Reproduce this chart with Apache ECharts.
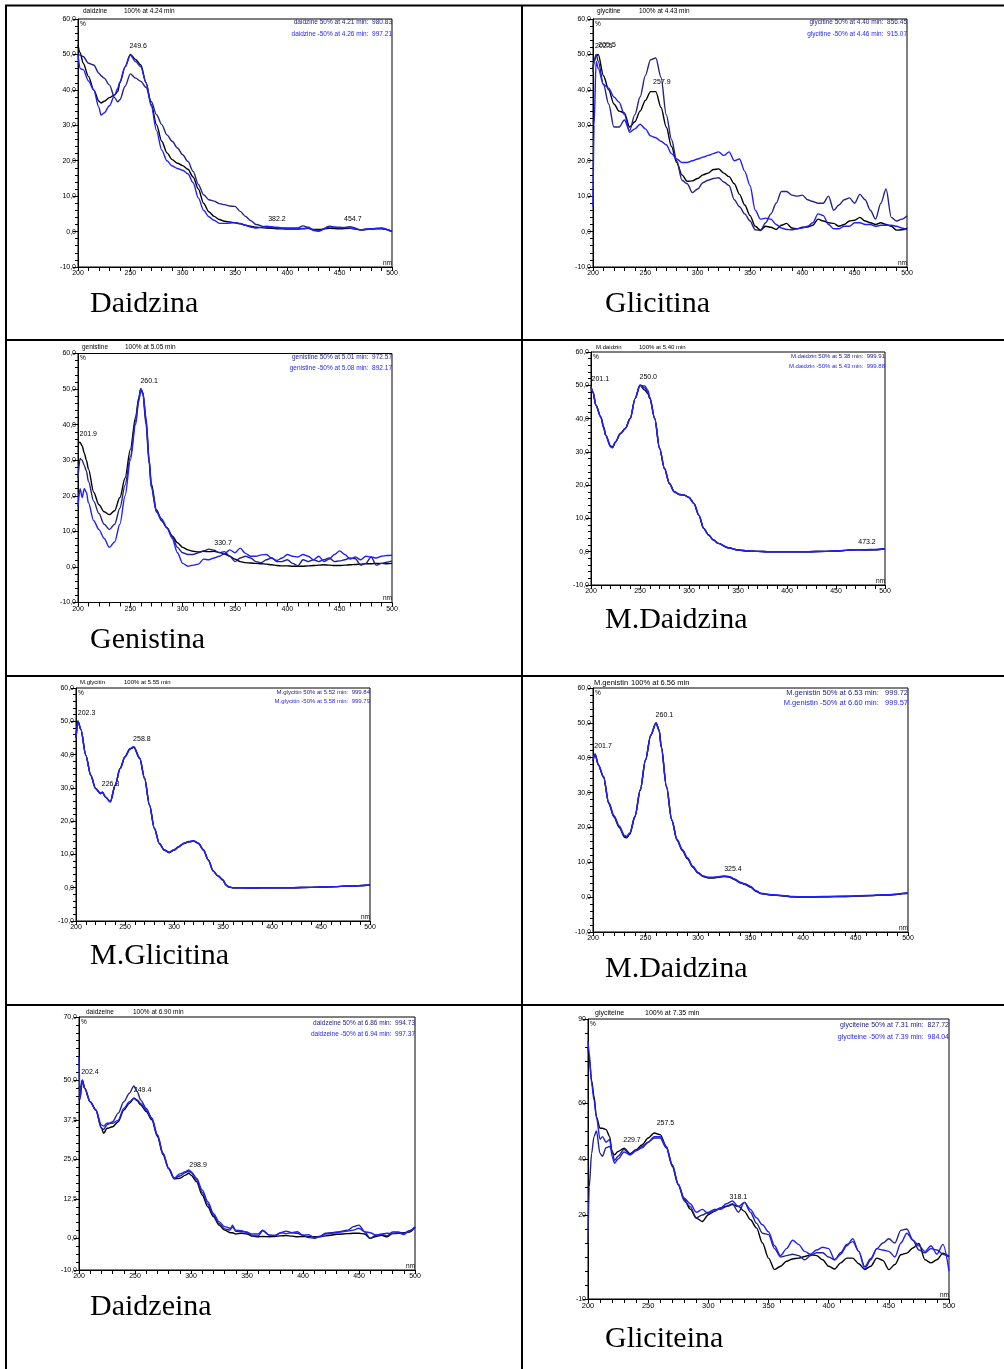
<!DOCTYPE html>
<html>
<head>
<meta charset="utf-8">
<title>Espectros UV</title>
<script src="https://cdn.jsdelivr.net/npm/echarts@6/dist/echarts.min.js"></script>
<style>
  html, body { margin: 0; padding: 0; background: #fff; }
  #chart { width: 1004px; height: 1369px; }
</style>
</head>
<body>
<div id="chart"></div>
<script>
// y tick labels
const yTicks60 = [-10, 0, 10, 20, 30, 40, 50, 60]
const yTicks70 = [-10, 0, 12.5, 25, 37.5, 50, 70]
const yTicks90 = [-10, 20, 40, 60, 90]

// daidzine (Daidzina)
const daidzineWl = [200,202,205,210,215,220,222,225,230,235,238,240,245,250,255,260,265,270,275,280,285,290,295,300,305,310,315,320,325,330,335,340,345,350,355,360,365,370,380,390,400,410,415,420,425,430,440,450,460,470,480,490,500]
const daidzine100 = [52.7,50.5,47.5,43.8,40,36.8,36.3,36.8,37.8,38.6,39.5,42,46.5,50,48.6,47,42,35.8,30.2,25.5,22.2,20.3,19.3,18.6,17.6,15.4,12,8,5.6,4.3,3.4,2.9,2.7,2.5,2.2,1.8,1.5,1.2,1.0,0.8,0.7,0.7,0.8,0.9,0.6,0.6,0.9,0.8,0.9,0.5,0.7,0.8,0.1]
const daidzine50 = [50,49.8,49.4,47.5,47,44.7,44,43.3,41.4,37.8,36.6,37.2,41,44.5,43.3,42.4,40.7,36.7,33,30.2,27.3,25.5,23.6,21.7,19.8,17,13.3,10.4,9,8.6,7.9,7.6,7.2,7.1,5.7,4.3,3.1,2,1.2,1,1,1,1.6,1.2,0.5,0.1,1.5,1,1.4,0.5,0.8,0.9,0]
const daidzineM50 = [50,46,45.7,42.5,40,35,32.9,33.5,35.5,38.5,40.5,42.3,46.5,49.8,48,46.5,42,35.5,28.5,23,20,18.5,17.8,17.3,16.3,13.8,9.5,6,4.2,3.2,2.3,2.3,2.4,2.5,2.3,1.8,1.3,1,1.5,1.2,0.8,0.8,0.9,1,0.3,0.2,1.3,1.2,1,0.5,0.8,1,0]
const daidzinePeaks = [[249.6, 50], [382.2, 1.2], [454.7, 1.2]]

// glycitine (Glicitina)
const glycitineWl = [200,201,203,205,210,215,220,225,230,235,240,245,250,255,260,265,270,275,280,285,290,295,300,305,310,315,320,325,330,335,340,345,350,355,360,365,370,375,380,385,390,395,400,405,410,415,420,425,430,435,440,445,450,455,460,465,470,475,480,485,490,495,500]
const glycitine100 = [46,48,49.5,50,44,40,36,34,33.5,29.5,31,34,37,39.5,39.5,35,29.5,24,19.5,16,14.2,14.3,15,16,16.5,17.5,17.7,16.5,15.5,13.5,10.5,7.5,4.5,1.5,0.4,1.5,1.2,0.6,1.8,2.3,1.0,0.8,1.2,1.3,1.8,3.5,3,2.5,2.3,1.5,2,3,3.2,4,3,2.5,2,2.5,2,1.5,0.4,0.5,1]
const glycitine50 = [45,48,50,48,41.5,36,29.5,29.5,31.5,28.5,33,38,44,48.5,49,43.5,33,26,20,14.5,13.5,11,12,13.8,14.5,15,15.2,14,13,9,7,5,3,0.5,0.3,2.5,5,8,11.3,11.3,10.3,10,10.3,9,8.5,8,8,10,6,7.5,9,9.5,8,10.5,9,6,3.5,8,12,4,3,3.5,4.5]
const glycitineM50 = [7,30,48,46,41.5,40.5,38,36.5,33,28,29,30.3,29,27,26.5,25.5,24.5,22,20.5,19.5,19.5,20,20.5,21,21.5,22,22.5,21.5,22.5,20,20.5,17,13,6,3.5,3.8,3.5,2,1,0.6,0.5,0.8,1,1.5,2.5,5,4.5,2,0.8,0.8,1.5,1.5,2.5,2.5,2,2,1.5,1.8,1.8,1.8,1.5,1,0.5]
const glycitinePeaks = [[202.5, 50], [205.5, 50.5], [257.9, 40]]

// genistine (Genistina)
const genistineWl = [200,202,204,206,208,210,215,220,225,230,235,240,245,250,255,258,260,262,265,268,270,275,280,285,290,295,300,305,310,315,320,325,330,335,340,345,350,355,360,365,370,375,380,385,390,395,400,405,410,415,420,425,430,435,440,445,450,455,460,465,470,475,480,485,490,495,500]
const genistine100 = [35,35,34,32,30,27.5,21,17.5,15.5,14.7,15.8,19.5,25,33,42,47.5,50,49,41,30,23.5,16,13,11,8.7,6.8,5.5,4.8,4.4,4.2,4.4,4.3,4.4,4.1,3.6,3,2.2,1.5,1.2,1.1,1,0.9,0.8,0.6,0.4,0.3,0.3,0.2,0.2,0.2,0.3,0.4,0.5,0.6,0.5,0.4,0.4,0.5,0.6,0.7,0.8,0.9,0.9,1,1,0.9,1]
const genistine50 = [25,30.5,30,28.5,27,24,18.5,15,12,10.5,12,16.5,23,31,41,47,50,48.5,40,29,22.5,15.5,13,11,8.5,5.5,4,3.5,3.5,4,4.5,5,4.7,4,4.3,3,1.5,2.5,3,2.5,1.5,1.2,2,2.5,1.5,1.5,2,1,0.3,2,1.5,2,1.5,2,2.5,1.5,1.7,2,2.5,2.3,0.5,1,2.8,0.5,1,1.3,1.7]
const genistineM50 = [17,22,19.5,22,21,18,13,10.5,8,5.5,7,12,20,30,40,46.5,50,49,42,30,22.5,15.5,13.5,11,8,4,1,0.2,0.5,0.8,2.2,2,2.5,3,3.7,4.8,4,5.3,3.8,3,3,3.4,3.5,2.5,1.8,2.5,3.5,3,2.8,3.5,3,2,3,1.5,2.2,3.5,4.5,3.5,2.2,2.8,2,3,2.8,2.5,3,3.2,3.3]
const genistinePeaks = [[260.1, 50], [201.9, 35], [330.7, 4.5]]

// M.daidzin (M.Daidzina)
const mDaidzinWl = [200,202,205,210,213,215,220,222,225,230,235,240,245,250,255,258,260,265,270,275,280,285,290,295,300,305,310,315,320,325,330,340,350,360,370,380,390,400,420,440,450,460,470,480,490,500]
const mDaidzin100 = [49.5,48,44,40.5,37.5,35,31.8,31.5,33,35.5,37,40,46,50,48.5,47.5,46,40,31,25,20.5,18,17.2,17,16.3,14.5,11,7,5,3.5,2.5,1.2,0.5,0.2,0.1,0,0,0,0,0.1,0.2,0.4,0.6,0.5,0.6,0.9]
const mDaidzin50 = [49.5,48,44,40.5,37.3,35,31.6,31.3,33,35.5,37,40,46,50,49.2,48,46.2,40,31,25,20.5,18,17.2,17,16.3,14.5,11,7,5,3.5,2.5,1.2,0.5,0.2,0.1,0,0,0,0,0.1,0.2,0.4,0.6,0.6,0.6,0.9]
const mDaidzinM50 = [49.5,48,44,40.5,37,35,31.5,31.2,33,35.5,37,40,46,50,49.8,48.5,46.5,40,31,25,20.5,18,17.2,17,16.3,14.5,11,7,5,3.5,2.5,1.2,0.5,0.2,0.1,0,0,0,0,0.1,0.2,0.4,0.6,0.6,0.7,0.9]
const mDaidzinPeaks = [[201.1, 49.5], [250.0, 50], [473.2, 0.6]]

// M.glycitin (M.Glicitina)
const mGlycitinWl = [200,202,205,210,215,220,225,227,230,235,240,245,250,255,259,265,270,275,280,285,290,295,300,305,310,315,320,325,330,335,340,345,350,353,356,360,380,400,420,440,460,480,500]
const mGlycitin100 = [45,50,47.5,39.8,33.8,29.8,28.3,28.7,27.3,25.8,30.8,35.8,39.3,41.6,42.2,38.8,32.8,24.8,17.8,13.3,11.3,10.5,11.3,12.3,13.3,13.8,14,13.3,11.3,8.3,5,3.5,2.3,0.8,0.2,0,-0.1,0,0,0.1,0.3,0.5,0.8]
const mGlycitin50 = [45,50,47.5,39.8,33.8,29.8,28.3,28.7,27.3,25.8,30.8,35.8,39.3,41.7,42.3,38.9,32.8,24.8,17.8,13.3,11.3,10.6,11.3,12.3,13.3,13.8,14,13.3,11.3,8.3,5,3.5,2.3,0.8,0.2,0,-0.1,0,0,0.1,0.3,0.5,0.8]
const mGlycitinM50 = [45,50,47.5,39.8,33.8,29.8,28.3,28.7,27.3,25.8,30.8,35.8,39.4,41.8,42.4,39,32.9,24.8,17.8,13.3,11.4,10.7,11.4,12.4,13.4,13.9,14.1,13.4,11.4,8.4,5,3.5,2.3,0.8,0.2,0,-0.1,0,0,0.1,0.3,0.5,0.8]
const mGlycitinPeaks = [[202.3, 50], [258.8, 42.2], [226.8, 28.7]]

// M.genistin (M.Daidzina, second panel)
const mGenistinWl = [200,202,205,210,215,220,225,230,232,235,240,245,250,255,260,263,265,270,275,280,285,290,295,300,305,310,315,320,325,330,335,340,345,350,355,360,370,380,390,400,420,440,460,480,490,495,500]
const mGenistin100 = [39,41,38,34.4,26.8,23,20,17.2,17,18,23,30.6,39.2,46.4,50,47.8,43,31.5,22,16.3,13.4,11,8.6,6.9,5.9,5.5,5.5,5.7,5.9,5.7,5,4.1,3.6,2.9,1.7,1,0.6,0.4,0.1,0,0.1,0.2,0.4,0.6,0.8,1,1.1]
const mGenistin50 = [39.5,41,38,34.6,27,23.2,20.2,17.5,17.3,18.3,23.2,30.8,39.4,46.5,50,47.9,43.2,31.7,22.2,16.5,13.6,11.2,8.8,7,6,5.6,5.6,5.8,6,5.8,5.1,4.2,3.7,3,1.8,1,0.6,0.4,0.1,0,0.1,0.2,0.4,0.6,0.8,1,1.1]
const mGenistinM50 = [39.5,41,38,34.6,27.2,23.4,20.4,17.7,17.5,18.4,23.3,30.8,39.4,46.5,50,47.9,43.2,31.8,22.3,16.6,13.7,11.3,8.9,7.1,6.1,5.7,5.7,5.9,6.1,5.9,5.2,4.3,3.8,3.1,1.9,1.1,0.7,0.5,0.2,0.1,0.2,0.3,0.5,0.7,0.9,1.1,1.2]
const mGenistinPeaks = [[260.1, 50], [201.7, 41], [325.4, 5.9]]

// daidzeine (Daidzeina)
const daidzeineWl = [200,201,203,205,210,215,220,222,225,230,235,240,245,249,252,255,260,265,270,275,280,285,290,295,298,300,305,310,315,320,325,330,335,337,340,345,350,355,360,364,370,375,380,385,390,395,400,405,410,415,420,425,430,440,445,450,455,460,465,470,475,480,485,490,495,500]
const daidzeine100 = [48,47,50,47.5,43.2,40.6,35,33.2,34.8,35.3,36.9,40.6,42.7,44.3,43.5,42.2,40.1,37.5,32.2,26.5,22,18.8,19,20,20.6,20,17.9,13.7,10,6.9,4.2,2.6,1.8,1.8,1.4,1.6,1.4,0.7,0.5,0.6,0.5,0.6,0.8,0.9,0.7,0.5,0.6,0.6,0.5,0.5,0.8,1,1.3,1.5,1.6,1.6,1.4,0,0.6,1,0.5,1.5,1.6,1.8,2,3.5]
const daidzeine50 = [44,45,50,47.5,43.2,40.6,34.8,34.5,35.9,36.9,39.6,43.2,45.9,48.2,46.4,43.8,41.1,38,32.7,26.9,22.2,19,19.7,20.8,21.2,20.8,18.5,14.5,10.8,7.4,4.7,3,2.6,4.2,2.2,2.1,2,0.8,0.8,2.4,1,0.9,1.8,2.3,1.8,1.6,1,0.3,0,0.7,1.6,1.8,2,2.6,3.7,4.2,2.1,0,1,1.3,0.8,2,2,1.6,2.4,3.5]
const daidzeineM50 = [57.5,44,50,47.5,43.2,40.6,35.9,35.5,36.4,36.4,37.4,41.1,43.2,44.3,43.8,42.7,40.6,38,32.7,26.9,22.2,19,20.4,21.1,21.6,21.1,19,15.3,11.6,7.9,5.3,3.7,3.2,3.5,2.6,2.4,1.8,1.4,1.4,2.6,1,0.9,1.8,1.5,1.8,2.1,1,1.2,0.2,0.5,1.4,1.5,1.8,2.3,2.6,3.2,2.1,1.8,1,1.3,1.6,1.5,1.8,1.2,2.3,3.7]
const daidzeinePeaks = [[202.4, 50], [249.4, 44.3], [298.9, 20.6]]

// glyciteine (Gliciteina)
const glyciteineWl = [200,201,203,205,207,210,212,215,218,220,222,225,230,235,240,245,250,255,260,265,270,275,280,285,290,295,300,305,310,315,320,325,330,335,340,345,350,355,360,365,370,375,380,385,390,395,400,405,410,415,420,425,430,435,440,445,450,455,460,465,470,475,480,485,490,495,500]
const glyciteine100 = [80,76,68,62.4,55,51,51,50.5,48,42.4,41.5,42.7,43.9,41.9,43.3,45.1,47.5,49.3,48.7,44.5,37.4,30.8,25.5,22.1,18.9,17.7,20.1,21.3,22.5,23.1,23.7,23.1,21.3,18.3,15.4,10,4.6,0.5,1.7,3.5,4.3,4.6,5.2,5.8,5.5,4,1.7,0.7,2.9,4.6,4.6,2.6,0.5,1.7,4.6,3.8,0.5,2.3,5.8,6.4,8.2,9.8,4,2.9,4,6.4,5.2]
const glyciteine50 = [10,30,42,48,50,42,41,44,44.5,43,39.5,41,43.5,41.5,43,44.5,46,47.5,47.5,44,38,31,25,23,19,20,21,22,22,23,24,21,24.5,21,17,13.5,13,8,5,5.5,6,5.5,4,5.5,6.5,6.5,5,4,6.5,9.5,10.5,7,1.5,4.5,8,10,11.5,10,14.5,15,11,7.5,6.5,8,7.5,6,5]
const glyciteineM50 = [82,78,67,61,55,47,48,46,47,41,38.5,40,42.5,41.5,43,44,46,48,48,44.5,38,31,26,24,21,22,20.5,21.5,22.5,24,25,23,24.5,22,19,16.5,14,9,5.5,8,11,9.5,7,6,7.5,8.5,8,4,6,9,11.5,7,0.8,4,8,7.5,7,5,10,13.5,11,9,7,9,6,9.5,0]
const glyciteinePeaks = [[257.5, 49.9], [229.7, 43.9], [318.1, 23.7]]

const NAVY = '#23238e'
const BLUE = '#1f1fff'
const SANS = '"Liberation Sans", Arial, sans-serif'

// 每个面板：数据 + 位置
const panels = [
  { wl: daidzineWl, lines: [daidzine100, daidzine50, daidzineM50], peaks: daidzinePeaks,
    yTicks: yTicks60, minorStep: 2, dec: 1, box: [78, 19, 314, 248],
    name: 'daidzine', time: '100% at 4.24 min', head: [83, 124, 11.5], fs: 6.5,
    legend: ['daidzine 50% at 4.21 min:  980.83', 'daidzine -50% at 4.26 min:  997.21'], leg: [3.5, 15],
    caption: 'Daidzina', cap: [90, 304] },
  { wl: glycitineWl, lines: [glycitine100, glycitine50, glycitineM50], peaks: glycitinePeaks,
    yTicks: yTicks60, minorStep: 2, dec: 1, box: [593, 19, 314, 248],
    name: 'glycitine', time: '100% at 4.43 min', head: [597, 639, 11.5], fs: 6.5,
    legend: ['glycitine 50% at 4.40 min:  856.45', 'glycitine -50% at 4.46 min:  915.07'], leg: [3.5, 15],
    caption: 'Glicitina', cap: [605, 304] },
  { wl: genistineWl, lines: [genistine100, genistine50, genistineM50], peaks: genistinePeaks,
    yTicks: yTicks60, minorStep: 2, dec: 1, box: [78, 353.5, 314, 249],
    name: 'genistine', time: '100% at 5.05 min', head: [82, 125, 347], fs: 6.5,
    legend: ['genistine 50% at 5.01 min:  972.57', 'genistine -50% at 5.08 min:  892.17'], leg: [4, 14.5],
    caption: 'Genistina', cap: [90, 640] },
  { wl: mDaidzinWl, lines: [mDaidzin100, mDaidzin50, mDaidzinM50], peaks: mDaidzinPeaks,
    yTicks: yTicks60, minorStep: 2, dec: 1, box: [591, 352, 294, 233],
    name: 'M.daidzin', time: '100% at 5.40 min', head: [596, 639, 347], fs: 6,
    legend: ['M.daidzin 50% at 5.38 min:  999.91', 'M.daidzin -50% at 5.43 min:  999.88'], leg: [4, 14],
    caption: 'M.Daidzina', cap: [605, 620] },
  { wl: mGlycitinWl, lines: [mGlycitin100, mGlycitin50, mGlycitinM50], peaks: mGlycitinPeaks,
    yTicks: yTicks60, minorStep: 2, dec: 1, box: [76, 688, 294, 233],
    name: 'M.glycitin', time: '100% at 5.55 min', head: [80, 124, 682.5], fs: 6,
    legend: ['M.glycitin 50% at 5.52 min:  999.84', 'M.glycitin -50% at 5.58 min:  999.79'], leg: [4, 13.5],
    caption: 'M.Glicitina', cap: [90, 956] },
  { wl: mGenistinWl, lines: [mGenistin100, mGenistin50, mGenistinM50], peaks: mGenistinPeaks,
    yTicks: yTicks60, minorStep: 2, dec: 1, box: [593, 688, 315, 244],
    name: 'M.genistin', time: '100% at 6.56 min', head: [594, 631, 682.5], fs: 7.5,
    legend: ['M.genistin 50% at 6.53 min:   999.72', 'M.genistin -50% at 6.60 min:   999.57'], leg: [5, 15],
    caption: 'M.Daidzina', cap: [605, 969] },
  { wl: daidzeineWl, lines: [daidzeine100, daidzeine50, daidzeineM50], peaks: daidzeinePeaks,
    yTicks: yTicks70, minorStep: 2.5, dec: 1, box: [79, 1017, 336, 253],
    name: 'daidzeine', time: '100% at 6.90 min', head: [86, 133, 1012.5], fs: 6.5,
    legend: ['daidzeine 50% at 6.86 min:  994.73', 'daidzeine -50% at 6.94 min:  997.37'], leg: [6, 17],
    caption: 'Daidzeina', cap: [90, 1307] },
  { wl: glyciteineWl, lines: [glyciteine100, glyciteine50, glyciteineM50], peaks: glyciteinePeaks,
    yTicks: yTicks90, minorStep: 5, dec: 0, box: [588, 1019, 361, 280],
    name: 'glyciteine', time: '100% at 7.35 min', head: [595, 645, 1013], fs: 7,
    legend: ['glyciteine 50% at 7.31 min:  827.72', 'glyciteine -50% at 7.39 min:  984.04'], leg: [6, 18],
    caption: 'Gliciteina', cap: [605, 1339] },
]

function txt(text, x, y, fs, opts = {}) {
  return {
    type: 'text', x, y, silent: true, z: 10,
    style: Object.assign({
      text, fill: '#000', font: fs + 'px ' + SANS,
      textAlign: 'left', textVerticalAlign: 'middle'
    }, opts)
  }
}

const grid = [], xAxis = [], yAxis = [], series = [], graphic = []

panels.forEach((p, i) => {
  const [l, t, w, h] = p.box
  const yMin = p.yTicks[0]
  const yMax = p.yTicks[p.yTicks.length - 1]
  const minor = []
  for (let v = yMin; v <= yMax + 1e-6; v += p.minorStep) minor.push(+v.toFixed(2))

  grid.push({
    left: l, top: t, width: w, height: h,
    show: true, borderColor: '#000', borderWidth: 1,
    containLabel: false, outerBoundsMode: 'none'
  })

  xAxis.push({
    type: 'value', gridIndex: i, min: 200, max: 500, interval: 50,
    axisLine: { show: true, onZero: false, lineStyle: { color: '#000', width: 1 } },
    axisTick: { show: true, length: 4, lineStyle: { color: '#000' } },
    minorTick: { show: true, splitNumber: 5, length: 4, lineStyle: { color: '#000' } },
    axisLabel: { fontSize: i === 7 ? 7.5 : 7, margin: 3, color: '#000', fontFamily: SANS },
    splitLine: { show: false }
  })

  // 主刻度 + 标签
  yAxis.push({
    type: 'value', gridIndex: i, min: yMin, max: yMax, position: 'left',
    axisLine: { show: true, onZero: false, lineStyle: { color: '#000', width: 1 } },
    axisTick: { show: true, length: 5, customValues: p.yTicks, lineStyle: { color: '#000' } },
    axisLabel: {
      customValues: p.yTicks, fontSize: 7, margin: 2, color: '#000', fontFamily: SANS,
      formatter: v => p.dec ? v.toFixed(1).replace('.', ',') : String(v)
    },
    splitLine: { show: false }
  })
  // 次刻度
  yAxis.push({
    type: 'value', gridIndex: i, min: yMin, max: yMax, position: 'left', offset: 0,
    axisLine: { show: false, onZero: false },
    axisTick: { show: true, length: 3, customValues: minor, lineStyle: { color: '#000' } },
    axisLabel: { show: false },
    splitLine: { show: false }
  })

  const colors = ['#000', NAVY, BLUE]
  p.lines.forEach((ys, k) => {
    const s = {
      type: 'line', xAxisIndex: i, yAxisIndex: i * 2,
      data: p.wl.map((x, j) => [x, ys[j]]),
      showSymbol: false, smooth: 0.3, smoothMonotone: 'x',
      lineStyle: { color: colors[k], width: 1.4 },
      itemStyle: { color: colors[k] },
      silent: true, z: 3 + k
    }
    if (k === 0) {
      s.markPoint = {
        symbol: 'circle', symbolSize: 1, silent: true,
        itemStyle: { color: 'rgba(0,0,0,0)' },
        label: {
          show: true, position: [0, -11], fontSize: 7, color: '#000', fontFamily: SANS,
          formatter: d => d.value
        },
        data: p.peaks.map(pk => ({ coord: pk, value: pk[0].toFixed(1) }))
      }
    }
    series.push(s)
  })

  // 标题 / 图例文字
  graphic.push(txt(p.name, p.head[0], p.head[2], p.fs))
  graphic.push(txt(p.time, p.head[1], p.head[2], p.fs))
  graphic.push(txt(p.legend[0], l + w, t + p.leg[0], p.fs, { fill: NAVY, textAlign: 'right' }))
  graphic.push(txt(p.legend[1], l + w, t + p.leg[1], p.fs, { fill: BLUE, textAlign: 'right' }))
  graphic.push(txt('%', l + 2, t + 5, 6.5))
  graphic.push(txt('nm', l + w, t + h - 4, 6.5, { textAlign: 'right' }))
  graphic.push(txt(p.caption, p.cap[0], p.cap[1], 30, {
    font: '30px "Liberation Serif", "Times New Roman", serif'
  }))
})

// 表格线
const tableLines = [
  [5, 5.5, 1004, 5.5], [6, 5, 6, 1369], [522, 5, 522, 1369],
  [5, 340, 1004, 340], [5, 676, 1004, 676], [5, 1005, 1004, 1005]
]
tableLines.forEach(([x1, y1, x2, y2]) => {
  graphic.push({
    type: 'line', silent: true, z: 10,
    shape: { x1, y1, x2, y2 },
    style: { stroke: '#000', lineWidth: 2 }
  })
})

const myChart = echarts.init(document.getElementById('chart'))
myChart.setOption({
  animation: false,
  backgroundColor: '#fff',
  grid, xAxis, yAxis, series, graphic
})
</script>
</body>
</html>
